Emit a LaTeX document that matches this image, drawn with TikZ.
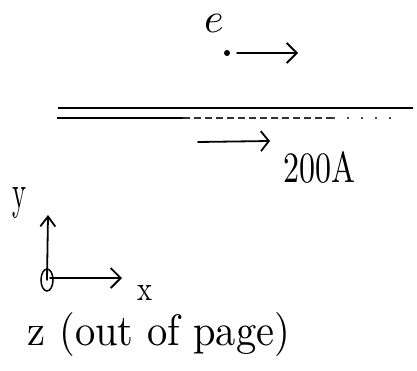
\documentclass[tikz,border=0pt]{standalone}
\usetikzlibrary{arrows.meta,shapes.geometric}
\begin{document}
\begin{tikzpicture}[x=1pt,y=1pt,
  pen/.style={line width=1.8pt, line cap=round},
  vec/.style={pen, -{Straight Barb[length=10pt,width=20pt,line width=1.8pt]}},
  lbl/.style={inner sep=0pt, outer sep=0pt}]
\useasboundingbox (0,0) rectangle (417,370);
% electron
\node[lbl, anchor=base] (elab) at (214,337) {\scalebox{4.2}{$e$}};
\node[circle, fill=black, inner sep=0pt, minimum size=6pt] (el) at (227,317) {};
\coordinate (ea) at (237,317);
\coordinate (eb) at (298,317);
\draw[vec] (ea) -- (eb);
% wire
\coordinate (w1a) at (58,262);
\coordinate (w1b) at (413,262);
\draw[line width=1.8pt] (w1a) -- (w1b);
\coordinate (w2a) at (57,252);
\coordinate (w2b) at (183,252);
\coordinate (w2c) at (333,252);
\coordinate (w2d) at (400,252);
\draw[line width=2.4pt] (w2a) -- (w2b);
\draw[line width=1.5pt, black!80, dash pattern=on 7pt off 4pt] (w2b) -- (w2c);
\draw[line width=1.3pt, black!70, dash pattern=on 2pt off 12pt] (w2c) -- (w2d);
% current
\coordinate (ca) at (198,228);
\coordinate (cb) at (270,229);
\draw[pen, -{Straight Barb[length=8pt,width=20pt,line width=1.8pt]}] (ca) -- (cb);
\node[lbl] (cur) at (319,202.5) {\resizebox{72pt}{31pt}{200A}};
% axes
\node[draw, ellipse, line width=1.5pt, minimum width=12pt, minimum height=22pt, inner sep=0pt] (o) at (47,90) {};
\coordinate (ytip) at (48,155);
\coordinate (xtip) at (122,92);
\draw[pen, -{Straight Barb[length=10pt,width=15pt,line width=1.8pt]}] (o.center) -- (ytip);
\draw[vec] ([xshift=3pt,yshift=2pt]o.center) -- (xtip);
\node[lbl] (ylab) at (20,167.5) {\resizebox*{14pt}{31pt}{y}};
\node[lbl] (xlab) at (144.5,77.5) {\resizebox{15pt}{15pt}{x}};
\node[lbl] (zlab) at (159,36) {\resizebox*{262pt}{44pt}{z (out of page)}};
\end{tikzpicture}
\end{document}
